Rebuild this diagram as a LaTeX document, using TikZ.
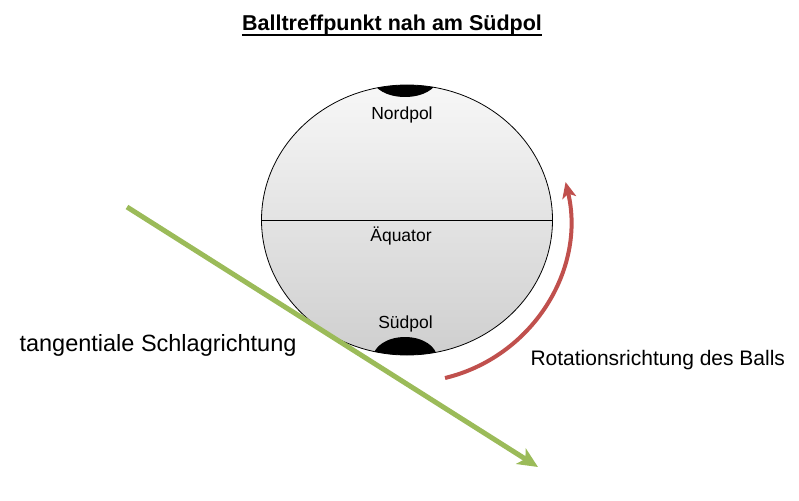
\documentclass[tikz,border=0pt]{standalone}
\usepackage{fontspec}
\setmainfont{Liberation Sans}
\usetikzlibrary{arrows.meta}
\definecolor{arrgreen}{HTML}{9BBB59}
\definecolor{arrred}{HTML}{C0504D}
\begin{document}
\begin{tikzpicture}[x=1pt,y=-1pt,
  poltext/.style={font=\fontsize{17.5}{20}\selectfont, anchor=base},
  bigtext/.style={anchor=base west},
  capfill/.style={fill=black}]
\useasboundingbox (0,0) rectangle (799,500);
% ball
\coordinate (c) at (407,220);
\begin{scope}
  \clip (c) ellipse [x radius=145.5, y radius=135];
  \shade[top color=gray!6, bottom color=gray!38] (261,84) rectangle (553,356);
  \fill[capfill] (405,79) ellipse [x radius=32, y radius=18];
  \fill[capfill] (405,358) ellipse [x radius=32, y radius=21];
\end{scope}
\draw[line width=0.8pt] (c) ellipse [x radius=145.5, y radius=135];
\coordinate (eqL) at (261.5,220);
\coordinate (eqR) at (552.5,220);
\draw[line width=0.8pt] (eqL) -- (eqR);
% pole labels
\node[poltext] (nord) at (402,119.5) {Nordpol};
\node[poltext] (aeq) at (401,241) {Äquator};
\node[poltext] (sued) at (405.5,328.5) {Südpol};
% title
\node[anchor=base, inner xsep=0pt, font=\fontsize{21.5}{24}\selectfont\bfseries] (title) at (392,31) {Balltreffpunkt nah am Südpol};
\draw[line width=1.8pt] ([yshift=-4pt]title.base west) -- ([yshift=-4pt]title.base east);
% green arrow
\coordinate (gs) at (127,207);
\coordinate (ge) at (538,467);
\draw[arrgreen, line width=5pt, -{Stealth[length=20pt,width=18pt,inset=5pt]}] (gs) -- (ge);
% red arrow
\coordinate (rs) at (445,378);
\draw[arrred, line width=4pt, -{Stealth[length=16pt,width=14pt,inset=4pt]}] (rs) arc [start angle=76.5, end angle=-13.3, radius=163];
% labels
\node[bigtext, font=\fontsize{23.5}{26}\selectfont] (tang) at (16,351.5) {tangentiale Schlagrichtung};
\node[bigtext, font=\fontsize{21}{24}\selectfont] (rot) at (527,365) {Rotationsrichtung des Balls};
\end{tikzpicture}
\end{document}
